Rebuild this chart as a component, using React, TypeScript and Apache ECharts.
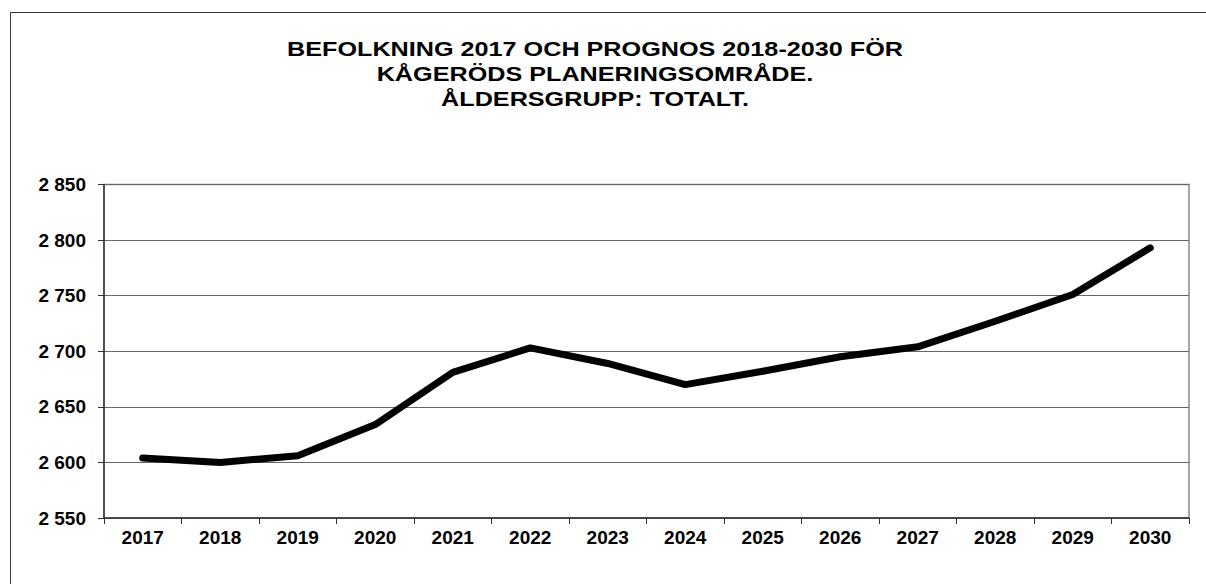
import React, { useEffect, useRef } from "react";
import * as echarts from "echarts";

const years = ["2017", "2018", "2019", "2020", "2021", "2022", "2023", "2024", "2025", "2026", "2027", "2028", "2029", "2030"];
const population = [2604, 2600, 2606, 2634, 2681, 2703, 2689, 2670, 2682, 2695, 2704, 2727, 2751, 2793];
const titleLines = [
  "BEFOLKNING 2017 OCH PROGNOS 2018-2030 FÖR",
  "KÅGERÖDS PLANERINGSOMRÅDE.",
  "ÅLDERSGRUPP: TOTALT.",
];
const yMin = 2550;
const yMax = 2850;
const yStep = 50;

const FONT = "'Liberation Sans', Arial, sans-serif";

export default function App() {
  const ref = useRef<HTMLDivElement>(null);
  useEffect(() => {
    if (!ref.current) return;
    const chart = echarts.init(ref.current, undefined, { renderer: "svg" });
    chart.setOption({
      animation: false,
      backgroundColor: "#ffffff",
      grid: {
        left: 104,
        right: 17,
        top: 184.5,
        bottom: 66,
        show: true,
        borderColor: "#8a8a8a",
        borderWidth: 1.5,
        containLabel: false,
      },
      graphic: [
        {
          type: "rect",
          shape: { x: 10.5, y: 12.5, width: 1220, height: 600 },
          style: { fill: "none", stroke: "#333333", lineWidth: 1 },
          silent: true,
        },
        {
          type: "text",
          x: 595,
          y: 36,
          scaleX: 1.2,
          scaleY: 1,
          style: {
            text: titleLines.join("\n"),
            font: `bold 21px ${FONT}`,
            lineHeight: 25,
            fill: "#000",
            align: "center",
            verticalAlign: "top",
          },
        },
      ],
      xAxis: {
        type: "category",
        data: years,
        boundaryGap: true,
        axisLine: { show: true, lineStyle: { color: "#333", width: 1.5 } },
        axisTick: { show: true, alignWithLabel: false, length: 6, lineStyle: { color: "#333", width: 1 } },
        axisLabel: {
          color: "#000",
          fontFamily: FONT,
          fontWeight: "bold",
          fontSize: 19,
          margin: 10,
        },
        splitLine: { show: false },
      },
      yAxis: {
        type: "value",
        min: yMin,
        max: yMax,
        interval: yStep,
        axisLine: { show: true, lineStyle: { color: "#333", width: 1.5 } },
        axisTick: { show: true, length: 6, lineStyle: { color: "#333", width: 1 } },
        axisLabel: {
          color: "#000",
          fontFamily: FONT,
          fontWeight: "bold",
          fontSize: 19,
          margin: 18,
          formatter: (v: number) => {
            const s = String(Math.round(v));
            return s.replace(/\B(?=(\d{3})+(?!\d))/g, " ");
          },
        },
        splitLine: { show: true, lineStyle: { color: "#666", width: 1 } },
      },
      series: [
        {
          type: "line",
          data: population,
          symbol: "none",
          lineStyle: { color: "#000", width: 7, cap: "round", join: "round" },
          silent: true,
        },
      ],
    });
    return () => chart.dispose();
  }, []);
  return (
    <div
      ref={ref}
      style={{ position: "fixed", left: 0, top: 0, width: 1206, height: 584, background: "#fff" }}
    />
  );
}
